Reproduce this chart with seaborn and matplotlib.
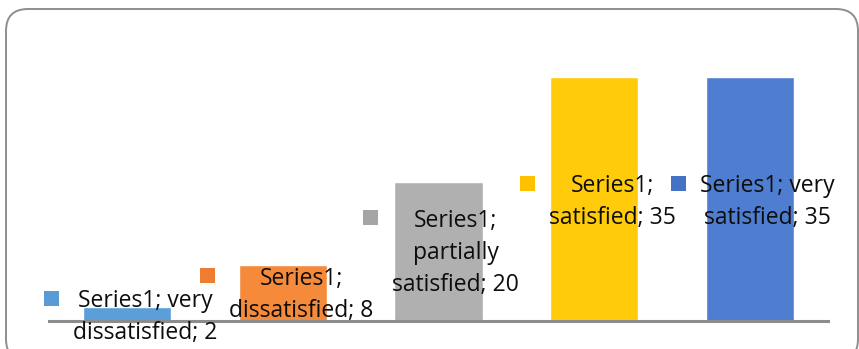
import matplotlib
matplotlib.use("Agg")
import matplotlib.pyplot as plt
from matplotlib.patches import FancyBboxPatch, Rectangle
from matplotlib.transforms import Affine2D
import seaborn as sns
import pandas as pd

# Satisfaction survey counts
categories = ["very dissatisfied", "dissatisfied", "partially satisfied", "satisfied", "very satisfied"]
values = [2, 8, 20, 35, 35]
series_name = "Series1"

# Data label lines, wrapped the way the labels are laid out
label_lines = [
    ["Series1; very", "dissatisfied; 2"],
    ["Series1;", "dissatisfied; 8"],
    ["Series1;", "partially", "satisfied; 20"],
    ["Series1;", "satisfied; 35"],
    ["Series1; very", "satisfied; 35"],
]

bar_colors = ["#5C9EDA", "#F58A3B", "#B0B0B0", "#FFCB0B", "#4F7ED1"]
key_colors = ["#5B9BD5", "#ED7D31", "#A5A5A5", "#FFC000", "#4472C4"]

# Label placement: first-line baseline (data units) and horizontal shift from bar centre
label_y = [2.0, 5.2, 13.5, 18.5, 18.5]
label_dx = [0.12, 0.12, 0.11, 0.115, 0.11]
line_pitch_px = 32

sns.set_theme(style="white")
plt.rcParams["font.family"] = ["Open Sans", "DejaVu Sans"]

W, H, DPI = 859, 349, 100
fig = plt.figure(figsize=(W / DPI, H / DPI), dpi=DPI)
px = Affine2D().scale(1 / W, 1 / H) + fig.transFigure

# Rounded chart-area frame (pixel units, origin bottom-left)
frame = FancyBboxPatch((6, -12), 852, 352,
                       boxstyle="round,pad=0,rounding_size=22",
                       transform=px, facecolor="none",
                       edgecolor="#8E8E8E", linewidth=1.4, zorder=-1)
fig.patches.append(frame)

ax_left, ax_right = 49 / W, 828 / W
ax_bottom = (H - 321) / H
ymax = 40
px_per_unit = 244 / 35
ax_height = ymax * px_per_unit / H
ax = fig.add_axes([ax_left, ax_bottom, ax_right - ax_left, ax_height])
ax.patch.set_alpha(0)

df = pd.DataFrame({"category": categories, "value": values})
sns.barplot(data=df, x="category", y="value", hue="category",
            palette=bar_colors, dodge=False, width=0.566, legend=False,
            saturation=1, ax=ax)

ax.set_xlim(-0.5, len(categories) - 0.5)
ax.set_ylim(0, ymax)
ax.set_xlabel("")
ax.set_ylabel("")
ax.set_xticks([])
ax.set_yticks([])
for side in ["left", "right", "top"]:
    ax.spines[side].set_visible(False)
ax.spines["bottom"].set_color("#8C8C8C")
ax.spines["bottom"].set_linewidth(2.2)

pitch_pt = line_pitch_px * 72 / DPI
label_artists = []
for i, lines in enumerate(label_lines):
    arts = []
    for k, line in enumerate(lines):
        a = ax.annotate(line, xy=(i + label_dx[i], label_y[i]), xycoords="data",
                        xytext=(0, -k * pitch_pt), textcoords="offset points",
                        ha="center", va="baseline", fontsize=16.5, color="#0D0D0D",
                        zorder=5, annotation_clip=False)
        arts.append(a)
    label_artists.append(arts)

# Legend keys to the left of each data label
fig.canvas.draw()
renderer = fig.canvas.get_renderer()
key = 15
for i, arts in enumerate(label_artists):
    left = min(a.get_window_extent(renderer).x0 for a in arts)
    base_disp = ax.transData.transform((i + label_dx[i], label_y[i]))
    x1 = left - 14
    yc = base_disp[1] + 9
    fig.patches.append(Rectangle((x1 - key, yc - key / 2), key, key, transform=px,
                                 facecolor=key_colors[i], edgecolor="none", zorder=6))

fig.savefig("out.png", dpi=DPI)
